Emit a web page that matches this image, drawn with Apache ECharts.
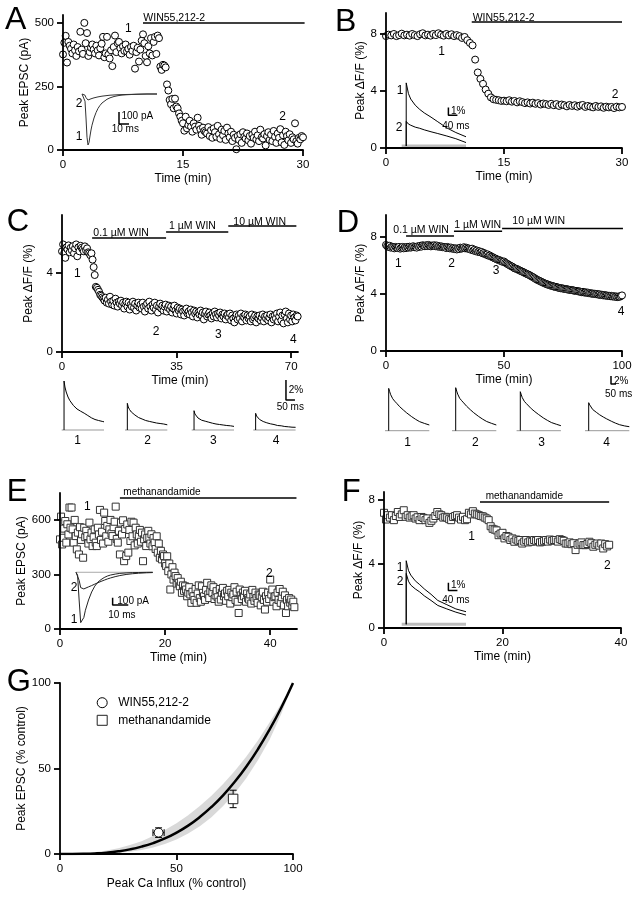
<!DOCTYPE html>
<html><head><meta charset="utf-8">
<script src="https://cdn.jsdelivr.net/npm/echarts@6/dist/echarts.min.js"></script>
<style>html,body{margin:0;padding:0;background:#fff}#c{width:637px;height:900px}</style>
</head><body><div id="c"></div>
<script>
// ================= DATA =================
// Panel A: WIN55,212-2, peak EPSC (pA), one sample every 10 s
const A_xTicks = [0, 15, 30], A_yTicks = [0, 250, 500];
const A_dtMin = 1 / 6;
const A_epsc = [
 376,422,449,344,425,410, 398,380,415,392,370,405, 388,465,395,378,500,420, 460,370,385,402,415,395,
 380,410,392,372,400,418, 445,365,380,445,375,360, 392,330,405,450,385,420, 425,400,380,408,390,415,
 388,398,375,405,390,410, 320,385,402,348,395,430, 455,420,370,345,408,380, 440,372,425,445,378,450,
 440,328,315,335,332,325, 258,234,197,180,201,164, 202,171,164,144,131,115, 105,76,131,85,98,115,
 92,72,105,92,80,127, 95,82,60,88,75,70, 65,90,55,78,48,85, 70,52,95,62,44,80,
 58,75,40,88,65,50, 72,35,60,48,3,55, 40,62,28,70,52,45, 65,38,55,25,60,48,
 72,42,58,35,80,50, 45,62,18,55,70,40, 60,35,75,52,28,65, 48,82,30,58,20,72,
 55,38,62,28,50,42, 105,35,25,48,42,55, 50];
const A_drug = [10, 30.2];
// A inset traces (ms, pA)
const A_trT  = [0,1,2,3,4,5,6,7,8,9,10,12,14,16,18,20,22,25,28,32,36,40,45,50,55,60,65,70,75];
const A_tr1  = [0,0,-5,-60,-200,-360,-425,-405,-350,-300,-260,-200,-155,-120,-95,-75,-60,-44,-32,-21,-14,-9,-6,-4,-2,-1,0,0,0];
const A_tr2  = [0,0,-2,-10,-30,-45,-50,-48,-44,-40,-37,-32,-28,-24,-21,-18,-16,-13,-10,-8,-6,-5,-4,-3,-2,-1,0,0,0];
const A_scale = [10, 100]; // ms, pA

// Panel B: WIN55,212-2, peak dF/F (%), one sample every 20 s
const B_xTicks = [0, 15, 30], B_yTicks = [0, 4, 8];
const B_dtMin = 1 / 3;
const B_dff = [
 7.85,7.95,7.9,8.0,7.85,7.92,8.02,7.9,7.95, 7.88,8.0,7.92,7.85,7.98,8.05,7.9,7.95,7.88,
 8.0,7.92,8.05,7.95,7.88,8.0,7.9,7.98,7.85, 7.92,7.85,7.72,7.79,7.56,7.37,7.2,6.2,5.3,
 4.85,4.5,4.1,3.81,3.55,3.42,3.38,3.35,3.3, 3.32,3.28,3.35,3.25,3.3,3.2,3.28,3.22,3.15,
 3.2,3.12,3.18,3.1,3.15,3.05,3.12,3.08,3.02, 3.1,3.0,3.08,2.95,3.05,3.0,2.92,3.02,2.95,
 3.0,2.9,2.98,3.02,2.88,2.95,2.9,2.85,2.95, 2.88,2.92,2.82,2.9,2.85,2.88,2.8,2.9,2.85, 2.88];
const B_drug = [10.9, 30];
const B_trT = [20,20,30,40,60,80,100,130,160,200,240,285];
const B_tr1 = [0,8.2,6.8,6.1,5.3,4.75,4.3,3.75,3.15,2.35,1.75,1.2];
const B_tr2 = [0,3.2,2.85,2.7,2.45,2.3,2.1,1.85,1.62,1.3,0.95,0.45];
const B_scale = [40, 1]; // ms, %

// Panel C: cumulative WIN, peak dF/F (%), one sample every 20 s
const C_xTicks = [0, 35, 70], C_yTicks = [0, 4];
const C_dtMin = 1 / 3;
const C_dff = [
 5.1,5.45,5.0,4.77,5.3,5.2,5.4,5.05,5.28, 5.15,5.36,5.0,5.25,5.45,4.85,5.3,5.1,5.38,
 5.28,5.2,5.1,5.35,5.15,5.25,5.05,5.0,4.9, 5.0,4.68,4.3,3.9,3.3,3.25,3.15,3.05,2.9,
 2.85,2.77,2.7,2.6,2.75,2.5,2.65,2.45,2.8, 2.55,2.4,2.6,2.35,2.7,2.5,2.3,2.55,2.45,
 2.6,2.35,2.5,2.2,2.45,2.55,2.3,2.5,2.15, 2.4,2.3,2.55,2.25,2.45,2.1,2.35,2.5,2.25,
 2.4,2.2,2.5,2.3,2.05,2.35,2.45,2.2,2.55, 2.3,2.1,2.4,2.25,2.5,2.15,2.35,2.0,2.3,
 2.45,2.2,2.35,2.1,2.3,2.4,2.05,2.25,2.35, 2.15,2.3,2.0,2.2,2.35,2.1,1.95,2.25,2.1,
 2.2,1.9,2.15,2.05,1.85,2.1,2.2,1.95,2.05, 1.9,2.15,2.0,1.8,2.1,1.95,2.05,1.75,2.0,
 1.9,2.1,1.85,2.0,1.65,1.95,2.05,1.8,1.9, 2.0,1.85,1.7,1.95,1.8,2.05,1.9,1.75,1.95,
 1.85,2.0,1.7,1.9,1.8,1.95,1.65,1.85,1.9, 1.75,1.95,1.6,1.85,1.7,1.5,1.8,1.9,1.65,
 1.85,1.7,1.95,1.55,1.8,1.75,1.9,1.6,1.85, 1.7,1.8,1.55,1.9,1.65,1.75,1.85,1.5,1.8,
 1.7,1.85,1.6,1.75,1.9,1.55,1.8,1.7,1.85, 1.6,1.75,1.9,1.5,1.8,1.65,1.85,1.7,1.95,
 1.55,1.8,2.0,1.6,1.85,1.45,1.9,2.05,1.7, 1.5,1.95,1.65,1.85,1.55,1.9,1.75,1.6,1.85, 1.8];
const C_drugs = [[9.2, 31.8], [31.8, 50.8], [50.8, 71.6]];
const C_drugNames = ['0.1 \u00b5M WIN', '1 \u00b5M WIN', '10 \u00b5M WIN'];
const C_trT = [13,13,18,25,35,45,55,65,75,85,95,105,115,125,135,145,155,165,175,185,195,205,215,225,235];
const C_tr1 = [0,4.9,4.3,3.8,3.3,2.95,2.7,2.45,2.25,2.1,1.98,1.88,1.78,1.68,1.56,1.45,1.35,1.22,1.13,1.05,1.0,0.95,0.9,0.86,0.82];
const C_tr2 = [0,2.67,2.3,2.05,1.8,1.6,1.5,1.3,1.25,1.08,1.1,0.92,0.95,0.82,0.86,0.72,0.78,0.66,0.7,0.58,0.65,0.52,0.6,0.48,0.52];
const C_tr3 = [0,1.93,1.6,1.4,1.2,1.05,0.98,0.85,0.88,0.72,0.78,0.62,0.68,0.55,0.6,0.48,0.55,0.42,0.5,0.38,0.45,0.33,0.42,0.3,0.36];
const C_tr4 = [0,1.67,1.4,1.22,1.05,0.95,0.85,0.9,0.72,0.78,0.62,0.68,0.55,0.6,0.45,0.55,0.42,0.48,0.35,0.45,0.32,0.4,0.28,0.38,0.27];
const C_scale = [50, 2]; // ms, %

// Panel D: cumulative WIN, peak dF/F (%), one sample every 30 s
const D_xTicks = [0, 50, 100], D_yTicks = [0, 4, 8];
const D_dtMin = 0.5;
const D_dff = [
 7.44,7.35,7.3,7.38,7.25,7.32,7.28,7.2,7.3,7.25, 7.22,7.3,7.18,7.25,7.3,7.2,7.28,7.22,7.3,7.25,
 7.32,7.25,7.3,7.35,7.28,7.3,7.25,7.35,7.3,7.38, 7.32,7.42,7.38,7.35,7.42,7.36,7.44,7.38,7.34,7.4,
 7.38,7.42,7.35,7.4,7.32,7.36,7.3,7.34,7.28,7.3, 7.28,7.22,7.3,7.25,7.2,7.26,7.18,7.22,7.15,7.2,
 7.12,7.2,7.15,7.25,7.18,7.22,7.28,7.2,7.25,7.18, 7.2,7.15,7.1,7.18,7.05,7.1,7.0,7.05,6.95,7.0,
 6.92,6.95,6.85,6.88,6.8,6.75,6.78,6.68,6.7,6.62, 6.6,6.55,6.5,6.48,6.42,6.4,6.38,6.32,6.3,6.25,
 6.28,6.2,6.15,6.1,6.05,6.0,5.95,5.92,5.85,5.8, 5.78,5.75,5.7,5.66,5.62,5.58,5.55,5.5,5.46,5.42,
 5.38,5.35,5.3,5.25,5.2,5.16,5.1,5.05,5.0,4.96, 4.92,4.88,4.84,4.8,4.76,4.72,4.7,4.66,4.63,4.6,
 4.58,4.56,4.53,4.5,4.5,4.46,4.45,4.42,4.4,4.4, 4.38,4.36,4.35,4.33,4.32,4.3,4.28,4.28,4.26,4.25,
 4.22,4.22,4.2,4.18,4.18,4.15,4.12,4.15,4.1,4.12, 4.08,4.1,4.05,4.06,4.02,4.04,4.0,4.02,3.98,4.0,
 3.95,3.98,3.92,3.95,3.9,3.93,3.88,3.9,3.86,3.88, 3.84,3.87,3.82,3.85,3.8,3.83,3.78,3.82,3.8,3.85, 3.9];
const D_drugs = [[8.5, 28.8], [28.8, 49.2], [49.2, 100.4]];
const D_drugNames = ['0.1 \u00b5M WIN', '1 \u00b5M WIN', '10 \u00b5M WIN'];
const D_trT = [37,37,47,57,77,97,117,147,183,217,267,307,347,397,443];
const D_tr1 = [0,10.58,9.75,9.0,8.0,7.38,6.85,6.0,5.18,4.45,3.5,2.83,2.25,1.8,1.43];
const D_tr2 = [0,10.75,9.9,9.15,8.1,7.5,6.95,6.1,5.25,4.5,3.55,2.88,2.3,1.82,1.43];
const D_tr3 = [0,9.75,8.95,8.25,7.35,6.8,6.3,5.5,4.75,4.1,3.2,2.6,2.05,1.62,1.25];
const D_tr4 = [0,7.0,6.45,5.95,5.3,4.88,4.53,3.97,3.42,2.95,2.32,1.87,1.49,1.19,1.0];
const D_scale = [50, 2];

// Panel E: methanandamide, peak EPSC (pA), one sample every 12 s
const E_xTicks = [0, 20, 40], E_yTicks = [0, 300, 600];
const E_dtMin = 0.2;
const E_epsc = [
 493,618,465,502,552, 594,475,576,520,668, 557,668,548,475,600, 511,438,530,410,560,
 490,521,392,557,505, 540,511,470,585,493, 530,456,505,548,475, 456,557,520,655,490,
 535,470,640,594,510, 567,480,548,600,525, 511,560,590,673,495, 475,540,410,585,520,
 598,373,550,401,575, 420,545,484,590,510, 585,460,557,520,470, 511,545,480,530,373,
 493,520,456,500,540, 502,470,521,455,500, 475,440,510,420,470, 392,430,383,410,401,
 360,346,400,318,360, 217,300,340,272,310, 291,250,280,254,235, 260,199,240,210,235,
 217,180,200,230,190, 144,205,180,160,220, 144,195,240,170,150, 235,199,180,160,215,
 254,190,170,210,240, 199,230,165,185,208, 175,150,220,162,200, 226,180,195,155,210,
 180,215,140,200,175, 190,230,160,205,150, 88,217,185,165,200, 180,210,150,195,170,
 162,190,140,215,175, 155,200,170,144,190, 185,130,175,205,160, 107,180,150,200,165,
 272,190,217,150,175, 180,125,200,160,220, 144,175,205,130,185, 88,160,125,170,145,
 162,130,150,120];
const E_drug = [11.4, 45];
const E_trT = [0,1,2,3,4,5,6,8,10,12,14,16,18,20,22,25,28,32,36,40,45,49];
const E_tr1 = [0,-40,-380,-690,-712,-620,-520,-380,-270,-190,-135,-100,-72,-52,-38,-25,-15,-9,-5,-3,-1,0];
const E_tr2 = [0,-12,-110,-210,-233,-228,-220,-200,-182,-162,-143,-125,-108,-92,-78,-60,-45,-30,-20,-13,-7,-4];
const E_scale = [10, 100];

// Panel F: methanandamide, peak dF/F (%), one sample every 20 s
const F_xTicks = [0, 20, 40], F_yTicks = [0, 4, 8];
const F_dtMin = 1 / 3;
const F_dff = [
 7.2,6.78,7.05, 6.9,7.05,6.74, 7.0,7.25,6.94, 7.1,7.36,6.95, 7.05,6.9,6.98, 7.05,6.84,6.92,
 6.74,6.94,6.88, 6.74,6.85,6.57, 6.7,6.84,7.0, 7.25,7.1,7.05, 6.9,6.95,6.9, 6.8,6.74,6.94,
 7.0,7.05,6.9, 6.78,6.95,6.74, 6.8,7.2,7.1, 7.3,7.15,7.1, 7.05,7.0,6.98, 6.9,6.84,6.74,
 6.36,6.2,6.15, 6.1,5.8,5.9, 5.95,5.6,5.75, 5.7,5.5,5.6, 5.39,5.53,5.45, 5.5,5.28,5.4,
 5.5,5.35,5.42, 5.39,5.5,5.45, 5.5,5.35,5.39, 5.45,5.5,5.4, 5.53,5.45,5.5, 5.5,5.4,5.55,
 5.5,5.45,5.28, 5.28,5.35,5.24, 5.3,4.87,5.2, 5.28,5.35,5.18, 5.18,5.25,5.39, 5.3,5.08,5.2,
 5.28,5.15,5.28, 4.97,5.24,5.1, 5.2];
const F_drug = [16.2, 38];
const F_trT = [20,20,30,40,60,80,100,130,160,200,240,285];
const F_tr1 = [0,8.26,7.0,6.4,5.65,5.15,4.6,3.9,3.1,2.55,2.0,1.64];
const F_tr2 = [0,6.6,5.6,5.1,4.6,4.2,3.7,3.1,2.45,2.0,1.58,1.2];
const F_scale = [40, 1];

// Panel G: EPSC vs Ca influx
const G_xTicks = [0, 50, 100], G_yTicks = [0, 50, 100];
const G_x     = [0,5,10,15,20,25,30,35,40,45,50,55,60,65,70,75,80,85,90,95,100];
const G_curve = [0,0.01,0.1,0.34,0.8,1.56,2.7,4.3,6.4,9.1,12.5,16.6,21.6,27.5,34.3,42.2,51.2,61.4,72.9,85.7,100];
const G_lower = [0,0,0,0.1,0.3,0.7,1.3,2.3,3.8,5.8,8.5,12,16.3,21.5,28,35.5,44.5,55,67,82,100];
const G_upper = [0,0.1,0.4,1,2,3.4,5.2,7.5,10.5,14,18,22.6,28,34,41,48.5,57,66.5,77,88,100];
const G_names = ['WIN55,212-2', 'methanandamide'];
const G_points = [[42.3, 12.5], [74.3, 32.2]];   // x, y (% control)
const G_errors = [[2.4, 2.8], [0, 5.1]];         // x error, y error

// ================= LAYOUT =================
const FONT = '"Liberation Sans", Arial, Helvetica, sans-serif';
const LAY = {
  A: {g:{left:63, top:15, width:240, height:135}, x:[0,30], y:[0,531], yGap:29, xGap:23, yName:'Peak EPSC (pA)', drugY:500},
  B: {g:{left:386, top:13, width:236, height:135}, x:[0,30], y:[0,9.47], yGap:17, xGap:23, yName:'Peak \u0394F/F (%)', drugY:8.84},
  C: {g:{left:62, top:215, width:236, height:137}, x:[0,72.1], y:[0,6.94], yGap:27, xGap:23, yName:'Peak \u0394F/F (%)', drugY:[5.77,6.08,6.38]},
  D: {g:{left:386, top:215, width:236, height:136}, x:[0,100], y:[0,9.54], yGap:17, xGap:23, yName:'Peak \u0394F/F (%)', drugY:[8.07,8.4,8.6]},
  E: {g:{left:60, top:493, width:237, height:136}, x:[0,45.1], y:[0,748], yGap:31, xGap:23, yName:'Peak EPSC (pA)', drugY:721},
  F: {g:{left:384, top:492, width:237, height:136}, x:[0,40], y:[0,8.5], yGap:17, xGap:23, yName:'Peak \u0394F/F (%)', drugY:7.88},
  G: {g:{left:60, top:683, width:233, height:171}, x:[0,100], y:[0,100], yGap:25, xGap:24, yName:'Peak EPSC (% control)', xName:'Peak Ca Influx (% control)'}
};
const G_CAP = [1.5, 2.0]; // error-bar cap half-length (x units, y units)

const grids = [], xAxes = [], yAxes = [], series = [];
function addGrid(g) { grids.push(Object.assign({containLabel:false, outerBoundsMode:'none'}, g)); return grids.length - 1; }
function mainAxis(gi, isX, rng, ticks, name, gap) {
  return {
    gridIndex: gi, type: 'value', min: rng[0], max: rng[1], interval: ticks[1] - ticks[0], z: 10,
    axisLine: {show: true, onZero: false, lineStyle: {color: '#000', width: 1.8}},
    axisTick: {show: true, inside: false, length: 6, lineStyle: {color: '#000', width: 1.8}, customValues: ticks},
    axisLabel: {show: true, customValues: ticks, color: '#000', fontSize: 11.5, fontFamily: FONT, margin: 9,
                formatter: v => (ticks.indexOf(v) >= 0 ? String(v) : '')},
    splitLine: {show: false}, splitArea: {show: false},
    name: name, nameLocation: 'middle', nameGap: gap, nameRotate: isX ? 0 : 90,
    nameTextStyle: {color: '#000', fontSize: 12, fontFamily: FONT}, silent: true
  };
}
function hidAxis(gi, rng) { return {gridIndex: gi, type: 'value', min: rng[0], max: rng[1], show: false}; }
function mainPanel(key, xTicks, yTicks) {
  const L = LAY[key];
  const gi = addGrid(L.g);
  xAxes.push(mainAxis(gi, true, L.x, xTicks, L.xName || 'Time (min)', L.xGap));
  yAxes.push(mainAxis(gi, false, L.y, yTicks, L.yName, L.yGap));
  return gi;
}
function hidPanel(g, xr, yr) {
  const gi = addGrid(g);
  xAxes.push(hidAxis(gi, xr)); yAxes.push(hidAxis(gi, yr));
  return gi;
}
function timeSeries(vals, dt) { return vals.map((v, i) => [+(i * dt).toFixed(4), v]); }
function pairs(t, v) { return t.map((x, i) => [x, v[i]]); }
function scatter(gi, data, symbol, size, border, name) {
  const s = {type: 'scatter', xAxisIndex: gi, yAxisIndex: gi, data: data, symbol: symbol, symbolSize: size,
    itemStyle: {color: '#fff', borderColor: border, borderWidth: 1, opacity: 1}, silent: true, animation: false,
    progressive: 0, large: false, z: 5};
  if (name) s.name = name;
  series.push(s);
}
function line(gi, data, color, width, opts) {
  series.push(Object.assign({type: 'line', xAxisIndex: gi, yAxisIndex: gi, data: data, symbol: 'none', showSymbol: false,
    lineStyle: {color: color, width: width}, silent: true, animation: false, smooth: false}, opts || {}));
}
function drugBar(gi, range, yLevel) { line(gi, [[range[0], yLevel], [range[1], yLevel]], '#000', 1.5); }
function scaleBar(gi, anchor, sc) {
  // anchor = top of vertical bar; sc = [time size, amplitude size]
  line(gi, [[anchor[0], anchor[1]], [anchor[0], anchor[1] - sc[1]], [anchor[0] + sc[0], anchor[1] - sc[1]]], '#000', 1.5, {clip: false});
}

// ---- main panels ----
const gA = mainPanel('A', A_xTicks, A_yTicks);
const gB = mainPanel('B', B_xTicks, B_yTicks);
const gC = mainPanel('C', C_xTicks, C_yTicks);
const gD = mainPanel('D', D_xTicks, D_yTicks);
const gE = mainPanel('E', E_xTicks, E_yTicks);
const gF = mainPanel('F', F_xTicks, F_yTicks);
const gG = mainPanel('G', G_xTicks, G_yTicks);

drugBar(gA, A_drug, LAY.A.drugY);
drugBar(gB, B_drug, LAY.B.drugY);
C_drugs.forEach((r, i) => drugBar(gC, r, LAY.C.drugY[i]));
D_drugs.forEach((r, i) => drugBar(gD, r, LAY.D.drugY[i]));
drugBar(gE, E_drug, LAY.E.drugY);
drugBar(gF, F_drug, LAY.F.drugY);

scatter(gA, timeSeries(A_epsc, A_dtMin), 'circle', 7, '#000');
scatter(gB, timeSeries(B_dff, B_dtMin), 'circle', 7, '#000');
scatter(gC, timeSeries(C_dff, C_dtMin), 'circle', 7, '#000');
scatter(gD, timeSeries(D_dff, D_dtMin), 'circle', 7, '#000');
scatter(gE, timeSeries(E_epsc, E_dtMin), 'rect', 7, '#333');
scatter(gF, timeSeries(F_dff, F_dtMin), 'rect', 7, '#333');

// ---- insets ----
const iA = hidPanel({left:82, top:88, width:75, height:60}, [0,75], [-450,50]);
line(iA, pairs(A_trT, A_tr2), '#333', 1);
line(iA, pairs(A_trT, A_tr1), '#333', 1);
scaleBar(iA, [37, -150], A_scale);

const iB = hidPanel({left:401.7, top:79.8, width:64.3, height:70.07}, [0,285], [-0.5,8.6]);
line(iB, [[0,0],[285,0]], '#bdbdbd', 3);
line(iB, pairs(B_trT, B_tr2), '#000', 1);
line(iB, pairs(B_trT, B_tr1), '#000', 1);
scaleBar(iB, [207, 5.0], B_scale);

const C_left = [61.7, 125, 191.7, 253.3];
const C_tr = [C_tr1, C_tr2, C_tr3, C_tr4];
const iC = C_left.map((lft, k) => {
  const gi = hidPanel({left:lft, top:375, width:42.3, height:60}, [0,235], [-0.5,5.5]);
  line(gi, [[0,0],[235,0]], '#999', 1);
  line(gi, pairs(C_trT, C_tr[k]), '#000', 1);
  return gi;
});
scaleBar(iC[3], [181.5, 5], C_scale);

const D_left = [385, 452, 516.6, 585];
const D_tr = [D_tr1, D_tr2, D_tr3, D_tr4];
const iD = D_left.map((lft, k) => {
  const gi = hidPanel({left:lft, top:375, width:44.3, height:59.7}, [0,443], [-1,13.925]);
  line(gi, [[0,0],[443,0]], '#999', 1);
  line(gi, pairs(D_trT, D_tr[k]), '#000', 1);
  return gi;
});
scaleBar(iD[3], [260, 13.7], D_scale);

const iE = hidPanel({left:76, top:567.9, width:76.7, height:59.86}, [0,49], [-760,60]);
line(iE, [[0,0],[49,0]], '#aaa', 1);
line(iE, pairs(E_trT, E_tr2), '#222', 1);
line(iE, pairs(E_trT, E_tr1), '#222', 1);
scaleBar(iE, [23.4, -348], E_scale);

const iF = hidPanel({left:401.7, top:558.1, width:64.3, height:70.07}, [0,285], [-0.5,8.6]);
line(iF, [[0,0],[285,0]], '#bdbdbd', 3);
line(iF, pairs(F_trT, F_tr2), '#000', 1);
line(iF, pairs(F_trT, F_tr1), '#000', 1);
scaleBar(iF, [207, 5.4], F_scale);

// ---- panel G ----
// confidence band: grey area under the upper bound, then white area under the lower bound
line(gG, pairs(G_x, G_upper), '#d9d9d9', 0, {lineStyle: {opacity: 0}, areaStyle: {color: '#d9d9d9', opacity: 1}, z: 1});
line(gG, pairs(G_x, G_lower), '#fff', 0, {lineStyle: {opacity: 0}, areaStyle: {color: '#fff', opacity: 1}, z: 1});
line(gG, pairs(G_x, G_curve), '#000', 2.5, {smooth: true, z: 3});
// error bars
G_points.forEach((p, i) => {
  const ex = G_errors[i][0], ey = G_errors[i][1];
  if (ex > 0) {
    line(gG, [[p[0] - ex, p[1]], [p[0] + ex, p[1]]], '#000', 1, {z: 4});
    line(gG, [[p[0] - ex, p[1] - G_CAP[1]], [p[0] - ex, p[1] + G_CAP[1]]], '#000', 1, {z: 4});
    line(gG, [[p[0] + ex, p[1] - G_CAP[1]], [p[0] + ex, p[1] + G_CAP[1]]], '#000', 1, {z: 4});
  }
  if (ey > 0) {
    line(gG, [[p[0], p[1] - ey], [p[0], p[1] + ey]], '#000', 1, {z: 4});
    line(gG, [[p[0] - G_CAP[0], p[1] + ey], [p[0] + G_CAP[0], p[1] + ey]], '#000', 1, {z: 4});
    line(gG, [[p[0] - G_CAP[0], p[1] - ey], [p[0] + G_CAP[0], p[1] - ey]], '#000', 1, {z: 4});
  }
});
scatter(gG, [G_points[0]], 'circle', 9, '#000', G_names[0]);
scatter(gG, [G_points[1]], 'rect', 9.5, '#222', G_names[1]);

// ---- text annotations (pixel positions) ----
const texts = [];
function T(x, y, s, size, align) {
  texts.push({type: 'text', x: x, y: y, silent: true, z: 100,
    style: {text: s, font: size + 'px ' + FONT, fill: '#000', align: align || 'center', textAlign: align || 'center',
            verticalAlign: 'middle', textVerticalAlign: 'middle'}});
}
// panel letters
T(5, 20, 'A', 32, 'left'); T(335, 21.7, 'B', 32, 'left'); T(6.7, 222.5, 'C', 31, 'left'); T(336.7, 223.3, 'D', 31, 'left');
T(6.7, 492.5, 'E', 31, 'left'); T(341.7, 492.5, 'F', 31, 'left'); T(6.7, 682.5, 'G', 31, 'left');
// drug labels
T(143.3, 18.3, 'WIN55,212-2', 10.5, 'left'); T(472.7, 18.3, 'WIN55,212-2', 10.5, 'left');
T(93.3, 233, C_drugNames[0], 10.5, 'left'); T(169, 226, C_drugNames[1], 10.5, 'left'); T(233.3, 222, C_drugNames[2], 10.5, 'left');
T(393.3, 230, D_drugNames[0], 10.5, 'left'); T(454.3, 225, D_drugNames[1], 10.5, 'left'); T(512.3, 221, D_drugNames[2], 10.5, 'left');
T(123.3, 492.7, 'methanandamide', 10, 'left'); T(485.7, 496.7, 'methanandamide', 10, 'left');
// time-point numbers
T(128.3, 28.3, '1', 12); T(282.7, 116.7, '2', 12); T(79, 104, '2', 12); T(79, 136.7, '1', 12);
T(441.7, 51.7, '1', 12); T(615, 95, '2', 12); T(400, 90.7, '1', 12); T(399, 127.3, '2', 12);
T(77.3, 274, '1', 12); T(156, 331.7, '2', 12); T(218.3, 335, '3', 12); T(293.3, 340, '4', 12);
[77.7, 147.7, 213.3, 276].forEach((x, i) => T(x, 441, String(i + 1), 12));
T(398.3, 264, '1', 12); T(451.7, 264, '2', 12); T(496, 270.7, '3', 12); T(621, 311.7, '4', 12);
[407.7, 475.3, 541.7, 606.7].forEach((x, i) => T(x, 442.3, String(i + 1), 12));
T(87.3, 506.7, '1', 12); T(269.3, 573.3, '2', 12); T(74, 587.7, '2', 12); T(74, 620, '1', 12);
T(471.7, 536.7, '1', 12); T(607.3, 565.7, '2', 12); T(400, 567.3, '1', 12); T(400, 581.7, '2', 12);
// scale bar labels
T(121.5, 116, '100 pA', 10, 'left'); T(111.7, 129, '10 ms', 10, 'left');
T(451, 111, '1%', 10, 'left'); T(442.3, 126, '40 ms', 10, 'left');
T(288.7, 390, '2%', 10, 'left'); T(276.7, 407, '50 ms', 10, 'left');
T(614, 381, '2%', 10, 'left'); T(605, 394, '50 ms', 10, 'left');
T(117.3, 601, '100 pA', 10, 'left'); T(108.3, 615, '10 ms', 10, 'left');
T(451, 585.7, '1%', 10, 'left'); T(442.3, 600, '40 ms', 10, 'left');

const chart = echarts.init(document.getElementById('c'), null, {renderer: 'canvas', width: 637, height: 900});
chart.setOption({
  backgroundColor: '#fff',
  animation: false,
  textStyle: {fontFamily: FONT},
  grid: grids, xAxis: xAxes, yAxis: yAxes, series: series,
  legend: {show: true, orient: 'vertical', left: 96.7, top: 696.7, itemWidth: 10, itemHeight: 10, itemGap: 5.6, padding: 0,
    selectedMode: false,
    data: [
      {name: G_names[0], icon: 'circle', itemStyle: {color: '#fff', borderColor: '#000', borderWidth: 1}},
      {name: G_names[1], icon: 'rect', itemStyle: {color: '#fff', borderColor: '#222', borderWidth: 1}}
    ],
    textStyle: {fontSize: 12, color: '#000', fontFamily: FONT, padding: [0, 0, 0, 6]}},
  graphic: texts
});
</script></body></html>
